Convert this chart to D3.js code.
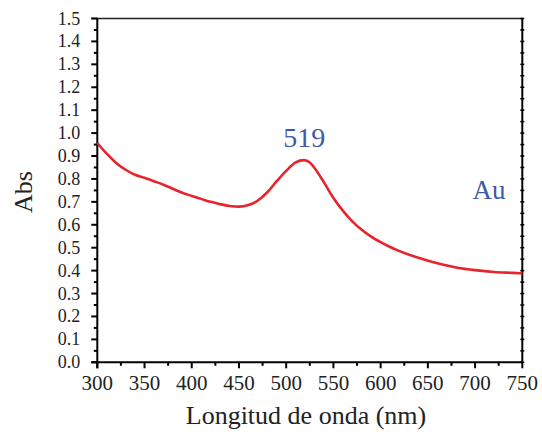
<!DOCTYPE html>
<html>
<head>
<meta charset="utf-8">
<script src="https://cdn.jsdelivr.net/npm/d3@7"></script>
<style>
  html, body { margin: 0; padding: 0; background: #fff; }
  svg { display: block; }
</style>
</head>
<body>
<svg id="chart" width="542" height="432"></svg>
<script>
// Absorbance spectrum of Au nanoparticles
const wavelength = [300, 310, 320, 330, 340, 350, 360, 370, 380, 390, 400, 410, 420, 430, 440, 450,
  460, 470, 480, 490, 500, 510, 519, 525, 530, 540, 550, 560, 570, 580, 590, 600, 610, 620,
  640, 660, 680, 700, 720, 740, 750];
const absorbance = [0.957, 0.91, 0.87, 0.84, 0.818, 0.805, 0.79, 0.775, 0.757, 0.74, 0.726, 0.713, 0.70, 0.69, 0.682, 0.679,
  0.686, 0.706, 0.742, 0.79, 0.835, 0.872, 0.882, 0.872, 0.848, 0.785, 0.717, 0.662, 0.615, 0.578, 0.548, 0.524, 0.503, 0.485,
  0.456, 0.432, 0.414, 0.402, 0.394, 0.39, 0.388];
const xTicks = [300, 350, 400, 450, 500, 550, 600, 650, 700, 750];
const yTicks = [0.0, 0.1, 0.2, 0.3, 0.4, 0.5, 0.6, 0.7, 0.8, 0.9, 1.0, 1.1, 1.2, 1.3, 1.4, 1.5];
const peakLabel = { wavelength: 519, text: "519" };
const sampleLabel = "Au";

const svg = d3.select("#chart");
const plotL = 97.3, plotR = 522.3, plotT = 18.5, plotB = 362.3;
const serif = "Liberation Serif";
const blue = "#3f5aa6";

const x = d3.scaleLinear().domain([300, 750]).range([plotL, plotR]);
const y = d3.scaleLinear().domain([0, 1.5]).range([plotB, plotT]);

// top border
svg.append("line")
  .attr("x1", plotL - 6).attr("x2", plotR)
  .attr("y1", plotT).attr("y2", plotT)
  .attr("stroke", "#222").attr("stroke-width", 1.5);

// right border with small ticks on both sides
svg.append("line")
  .attr("x1", plotR).attr("x2", plotR)
  .attr("y1", plotT).attr("y2", plotB)
  .attr("stroke", "#000").attr("stroke-width", 2);
svg.append("g").selectAll("line")
  .data(d3.range(0, 31).map(i => i * 0.05))
  .join("line")
  .attr("x1", plotR - 2).attr("x2", plotR + 2)
  .attr("y1", d => y(d)).attr("y2", d => y(d))
  .attr("stroke", "#000").attr("stroke-width", 1.5);

// y axis: major + minor ticks
const yMinor = d3.range(0, 15).map(i => i * 0.1 + 0.05);
const gy = svg.append("g");
gy.append("line")
  .attr("x1", plotL).attr("x2", plotL).attr("y1", plotT).attr("y2", plotB + 6)
  .attr("stroke", "#000").attr("stroke-width", 2);
gy.selectAll("line.maj").data(yTicks).join("line").attr("class", "maj")
  .attr("x1", plotL - 6).attr("x2", plotL)
  .attr("y1", d => y(d)).attr("y2", d => y(d))
  .attr("stroke", "#000").attr("stroke-width", 2);
gy.selectAll("line.min").data(yMinor).join("line").attr("class", "min")
  .attr("x1", plotL - 3.5).attr("x2", plotL)
  .attr("y1", d => y(d)).attr("y2", d => y(d))
  .attr("stroke", "#000").attr("stroke-width", 2);
gy.selectAll("text").data(yTicks).join("text")
  .attr("x", plotL - 17).attr("y", d => y(d) + 6)
  .attr("text-anchor", "end")
  .attr("font-family", serif).attr("font-size", 18)
  .attr("fill", "#222")
  .text(d => d.toFixed(1));

// x axis: major + minor ticks
const xMinor = d3.range(0, 9).map(i => 325 + i * 50);
const gx = svg.append("g");
gx.append("line")
  .attr("x1", plotL - 6).attr("x2", plotR).attr("y1", plotB).attr("y2", plotB)
  .attr("stroke", "#000").attr("stroke-width", 2);
gx.selectAll("line.maj").data(xTicks).join("line").attr("class", "maj")
  .attr("x1", d => x(d)).attr("x2", d => x(d))
  .attr("y1", plotB).attr("y2", plotB + 6)
  .attr("stroke", "#000").attr("stroke-width", 2);
gx.selectAll("line.min").data(xMinor).join("line").attr("class", "min")
  .attr("x1", d => x(d)).attr("x2", d => x(d))
  .attr("y1", plotB).attr("y2", plotB + 3.5)
  .attr("stroke", "#000").attr("stroke-width", 2);
gx.selectAll("text").data(xTicks).join("text")
  .attr("x", d => x(d)).attr("y", plotB + 28)
  .attr("text-anchor", "middle")
  .attr("font-family", serif).attr("font-size", 21)
  .attr("fill", "#222")
  .text(d => d);

// axis titles
svg.append("text")
  .attr("transform", "translate(32,192) rotate(-90)")
  .attr("text-anchor", "middle")
  .attr("font-family", serif).attr("font-size", 26)
  .attr("fill", "#222")
  .text("Abs");
svg.append("text")
  .attr("x", 306).attr("y", 424)
  .attr("text-anchor", "middle")
  .attr("font-family", serif).attr("font-size", 26)
  .attr("fill", "#222")
  .text("Longitud de onda (nm)");

// spectrum
const line = d3.line()
  .x((d, i) => x(wavelength[i]))
  .y(d => y(d))
  .curve(d3.curveMonotoneX);
svg.append("path")
  .datum(absorbance)
  .attr("d", line)
  .attr("fill", "none")
  .attr("stroke", "#e8232a")
  .attr("stroke-width", 2.6);

// annotations
const peakIdx = wavelength.indexOf(peakLabel.wavelength);
svg.append("text")
  .attr("x", x(peakLabel.wavelength)).attr("y", y(absorbance[peakIdx]) - 13)
  .attr("text-anchor", "middle")
  .attr("font-family", serif).attr("font-size", 28)
  .attr("fill", blue)
  .text(peakLabel.text);
svg.append("text")
  .attr("x", 489).attr("y", 199)
  .attr("text-anchor", "middle")
  .attr("font-family", serif).attr("font-size", 27)
  .attr("fill", blue)
  .text(sampleLabel);
</script>
</body>
</html>
